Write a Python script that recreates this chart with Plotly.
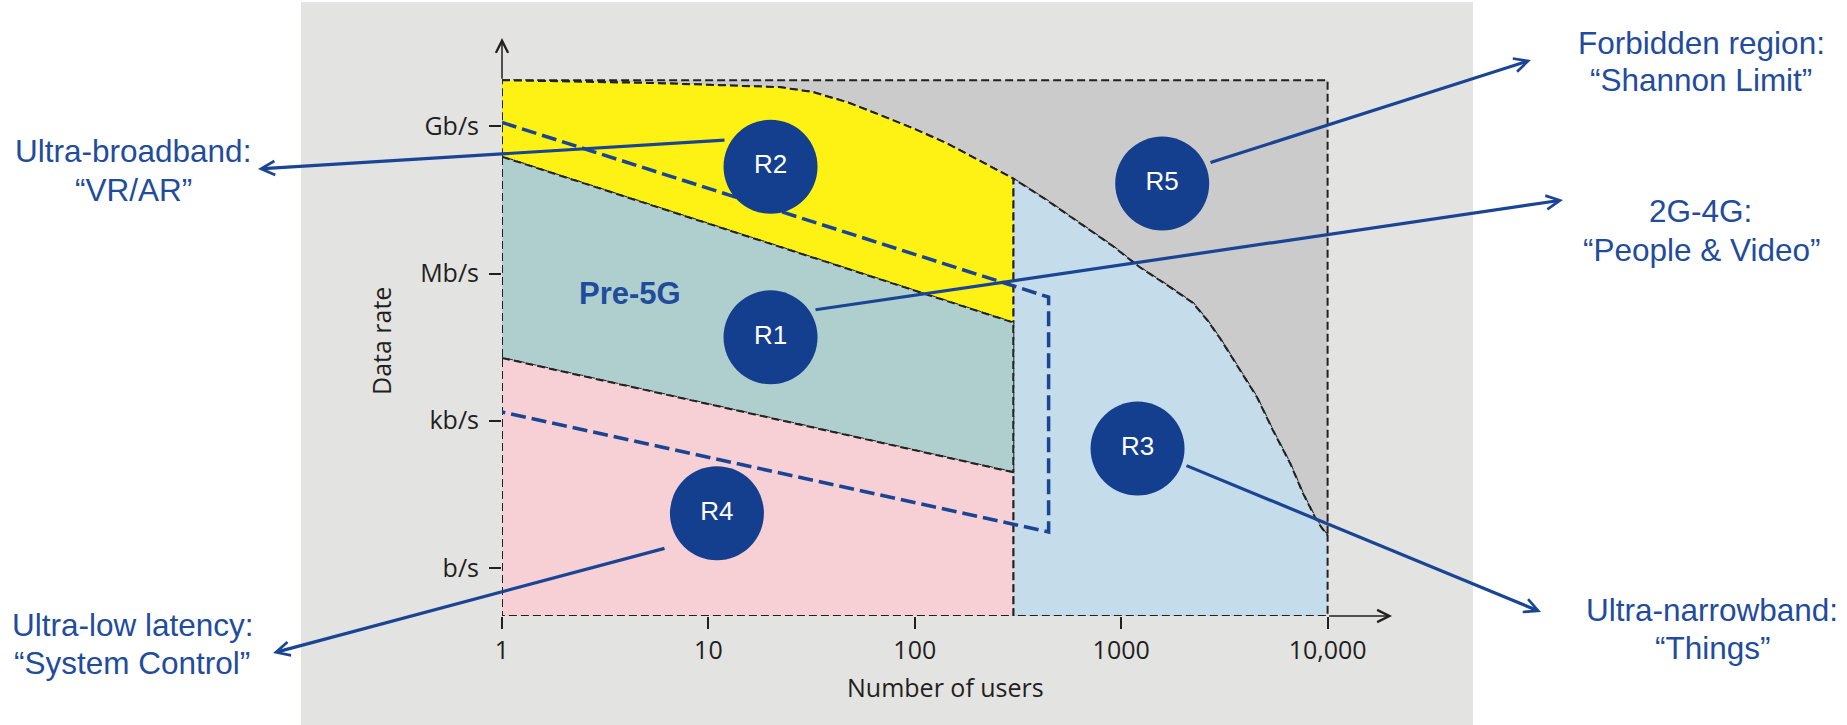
import numpy as np
import plotly.graph_objects as go

# ---------------- data ----------------
user_ticks = [1, 10, 100, 1000, 10000]
user_tick_labels = ["1", "10", "100", "1000", "10,000"]
rate_ticks = [1, 1e3, 1e6, 1e9]
rate_tick_labels = ["b/s", "kb/s", "Mb/s", "Gb/s"]

max_users = 10000
split_users = 300          # R1/R2/R4 end here, R3 starts here
rate_ceiling = 8.7e9

# Shannon limit (boundary of the forbidden region)
shannon_users = [1, 5.6, 11.4, 22, 32, 47, 68, 98, 143, 207, 300, 437, 631, 912,
                 1230, 1670, 2230, 2610, 3010, 3770, 4550, 5430, 6580, 7600,
                 8690, 9400, 10000]
shannon_rate = [8.7e9, 7.6e9, 6.9e9, 6.3e9, 5.0e9, 3.1e9, 1.7e9, 9.1e8, 4.5e8,
                2.0e8, 8.6e7, 3.1e7, 1.06e7, 3.6e6, 1.34e6, 5.8e5, 2.5e5,
                1.12e5, 4.8e4, 1.07e4, 3.0e3, 640, 136, 33, 10.8, 6.4, 4.6]

# lower edge of the ultra-broadband band / upper edge of the low-latency band
broadband_floor_users = [1, 300]
broadband_floor_rate = [2.4e8, 1.0e5]
latency_top_users = [1, 300]
latency_top_rate = [1.9e4, 89]

# Pre-5G envelope
pre5g_users = [1, 445, 445, 1]
pre5g_rate = [1.2e9, 3.3e5, 5.4, 1.5e3]

# region markers
region_names = ["R1", "R2", "R3", "R4", "R5"]
region_users = [20, 20, 1200, 11, 1580]
region_rate = [5.0e4, 1.5e8, 270, 13, 6.8e7]

# ---------------- geometry / style ----------------
W, H = 1847, 725
ML, MR, MT, MB = 502, 455, 38, 109
PW, PH = W - ML - MR, H - MT - MB
X_RANGE = [0, 4.312]
Y_RANGE = [-0.98, 10.80]
rate_floor = 10 ** Y_RANGE[0]

INK = "#231f20"
DASH_INK = "#222222"
NAVY = "#143f8f"
LINE_BLUE = "#1a4494"
LABEL_BLUE = "#1f4c9c"
PANEL = "#e3e3e2"
C_GRAY = "#cbcbcb"
C_BLUE = "#c5dcea"
C_YELLOW = "#fef214"
C_TEAL = "#afcfcf"
C_PINK = "#f6d0d5"

SANS = "Liberation Sans, Arial, sans-serif"
AXIS_FONT = "Open Sans, sans-serif"


def px_x(px):
    return (px - ML) / PW


def px_y(py):
    return (H - MB - py) / PH


def ax_px_x(u):
    return ML + (np.log10(u) - X_RANGE[0]) / (X_RANGE[1] - X_RANGE[0]) * PW


def ax_px_y(r):
    return H - MB - (np.log10(r) - Y_RANGE[0]) / (Y_RANGE[1] - Y_RANGE[0]) * PH


su = np.array(shannon_users, dtype=float)
sr = np.array(shannon_rate, dtype=float)
left = su <= split_users
right = su >= split_users

edge = dict(color=DASH_INK, width=2.0, dash="8px,4px")


def region(xs, ys, color):
    xs = list(xs) + [xs[0]]
    ys = list(ys) + [ys[0]]
    return go.Scatter(x=xs, y=ys, mode="lines", fill="toself", fillcolor=color,
                      line=edge, hoverinfo="skip", cliponaxis=False)


fig = go.Figure()

# R5: forbidden region above the Shannon limit
fig.add_trace(region(list(su) + [max_users, 1],
                     list(sr) + [rate_ceiling, rate_ceiling], C_GRAY))
# R3: ultra-narrowband
fig.add_trace(region([split_users] + list(su[right]) + [max_users],
                     [rate_floor] + list(sr[right]) + [rate_floor], C_BLUE))
# R2: ultra-broadband
fig.add_trace(region(list(su[left]) + broadband_floor_users[::-1],
                     list(sr[left]) + broadband_floor_rate[::-1], C_YELLOW))
# R1: 2G-4G
fig.add_trace(region(broadband_floor_users + latency_top_users[::-1],
                     broadband_floor_rate + latency_top_rate[::-1], C_TEAL))
# R4: ultra-low latency
fig.add_trace(region(latency_top_users + [split_users, 1],
                     latency_top_rate + [rate_floor, rate_floor], C_PINK))

# Pre-5G envelope
fig.add_trace(go.Scatter(x=pre5g_users, y=pre5g_rate, mode="lines",
                         line=dict(color=LINE_BLUE, width=3.5, dash="15px,6px"),
                         hoverinfo="skip", cliponaxis=False))

# region badges
fig.add_trace(go.Scatter(x=region_users, y=region_rate, mode="markers+text",
                         text=region_names, textposition="middle center",
                         marker=dict(size=94, color=NAVY, line=dict(width=0)),
                         textfont=dict(family=SANS, size=26, color="white"),
                         hoverinfo="skip", cliponaxis=False))

axis_common = dict(type="log", showgrid=False, zeroline=False, showline=False,
                   ticklen=12, tickwidth=1.6, tickcolor=INK)

fig.update_layout(
    width=W, height=H,
    margin=dict(l=ML, r=MR, t=MT, b=MB),
    paper_bgcolor="white", plot_bgcolor="rgba(0,0,0,0)",
    showlegend=False,
    xaxis=dict(range=X_RANGE, tickvals=user_ticks, ticktext=user_tick_labels,
               ticks="outside", ticklabelstandoff=0,
               tickfont=dict(family=AXIS_FONT, size=25, color=INK), **axis_common),
    xaxis2=dict(range=X_RANGE, tickvals=user_ticks, ticks="inside",
                showticklabels=False, overlaying="x", anchor="y", side="bottom",
                **axis_common),
    yaxis=dict(range=Y_RANGE, tickvals=rate_ticks, ticktext=rate_tick_labels,
               ticks="outside", ticklabelstandoff=5,
               tickfont=dict(family=AXIS_FONT, size=25, color=INK), **axis_common),
    yaxis2=dict(range=Y_RANGE, tickvals=rate_ticks, ticks="inside",
                showticklabels=False, overlaying="y", anchor="x", side="left",
                **axis_common),
)

# grey backdrop panel
fig.add_shape(type="rect", xref="paper", yref="paper", layer="below",
              x0=px_x(301), x1=px_x(1473), y0=px_y(H), y1=px_y(2),
              fillcolor=PANEL, line=dict(width=0))

annotations = []

# solid axis extensions ending in open arrowheads
x_end = ax_px_x(max_users)
annotations.append(dict(x=1, y=0, xref="paper", yref="paper", text="",
                        showarrow=True, axref="pixel", ayref="pixel",
                        ax=x_end - (ML + PW), ay=0, arrowhead=5, arrowsize=1.6,
                        arrowwidth=1.5, arrowcolor=INK))
y_end = ax_px_y(rate_ceiling)
annotations.append(dict(x=0, y=1, xref="paper", yref="paper", text="",
                        showarrow=True, axref="pixel", ayref="pixel",
                        ax=0, ay=y_end - MT, arrowhead=5, arrowsize=1.6,
                        arrowwidth=1.5, arrowcolor=INK))

# callout leaders: (tail at badge, head at caption)
callouts = [
    ((726, 140), (258, 169)),     # R2
    ((814, 310), (1563, 200)),    # R1
    ((1185, 465), (1541, 612)),   # R3
    ((666, 548), (273, 653)),     # R4
    ((1209, 163), (1531, 60)),    # R5
]
for (tx, ty), (hx, hy) in callouts:
    annotations.append(dict(x=px_x(hx), y=px_y(hy), xref="paper", yref="paper",
                            text="", showarrow=True, axref="pixel", ayref="pixel",
                            ax=tx - hx, ay=ty - hy, arrowhead=5, arrowsize=0.85,
                            arrowwidth=3.2, arrowcolor=LINE_BLUE))

centered = dict(xref="paper", yref="paper", showarrow=False,
                xanchor="center", yanchor="middle")

# captions
captions = [
    ("Ultra-broadband:", 132.5, 151.5),
    ("\u201cVR/AR\u201d", 133, 190),
    ("Ultra-low latency:", 132.5, 625),
    ("\u201cSystem Control\u201d", 131.5, 662.5),
    ("Forbidden region:", 1701.5, 43),
    ("\u201cShannon Limit\u201d", 1701, 80),
    ("2G-4G:", 1700.5, 211),
    ("\u201cPeople &amp; Video\u201d", 1701.5, 250),
    ("Ultra-narrowband:", 1711.5, 610),
    ("\u201cThings\u201d", 1712.5, 648),
]
for txt, cx, cy in captions:
    annotations.append(dict(x=px_x(cx), y=px_y(cy), text=txt,
                            font=dict(family=SANS, size=31.5, color=LABEL_BLUE),
                            **centered))

annotations.append(dict(x=px_x(630), y=px_y(293), text="<b>Pre-5G</b>",
                        font=dict(family=SANS, size=31, color=LABEL_BLUE),
                        **centered))

# axis titles
annotations.append(dict(x=px_x(945), y=px_y(687), text="Number of users",
                        font=dict(family=AXIS_FONT, size=25, color=INK),
                        **centered))
annotations.append(dict(x=px_x(381), y=px_y(341), text="Data rate",
                        textangle=-90,
                        font=dict(family=AXIS_FONT, size=25, color=INK),
                        **centered))

fig.update_layout(annotations=annotations)

fig.write_html("out.html")
